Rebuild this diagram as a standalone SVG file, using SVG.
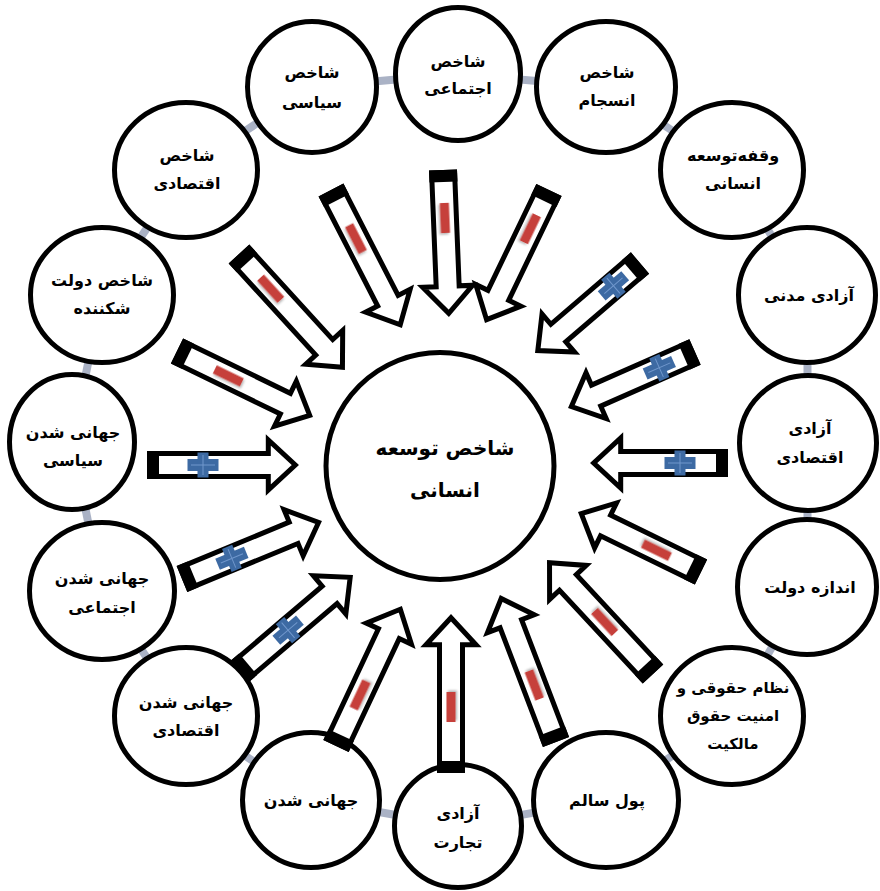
<svg xmlns="http://www.w3.org/2000/svg" width="880" height="891" viewBox="0 0 880 891">
<style>
.ring{stroke:#aab2c5;stroke-width:8;fill:none}
.node{fill:#fff;stroke:#000;stroke-width:5}
.lbl{font-family:"DejaVu Sans",sans-serif;font-weight:bold;font-size:16px;text-anchor:middle;fill:#000}
.big{font-size:20px}
.sm{font-size:15px}
.shaft{fill:#fff;stroke:#000;stroke-width:5;stroke-linejoin:miter}
.band{fill:#000}
.minus{fill:#c63f3a;filter:url(#sh)}
.plus{fill:#3d6aa3}
.pl{stroke:#7097cc;stroke-width:1}
</style>
<defs>
<filter id="sh" x="-50%" y="-50%" width="200%" height="200%">
<feDropShadow dx="1.5" dy="1.5" stdDeviation="1.2" flood-color="#000" flood-opacity="0.3"/>
</filter>
</defs>
<rect width="880" height="891" fill="#fff"/>
<g id="connectors">
<line class="ring" x1="458" y1="74" x2="606" y2="87"/>
<line class="ring" x1="606" y1="87" x2="732" y2="170"/>
<line class="ring" x1="732" y1="170" x2="807" y2="295"/>
<line class="ring" x1="807" y1="295" x2="808" y2="443"/>
<line class="ring" x1="808" y1="443" x2="807" y2="587"/>
<line class="ring" x1="807" y1="587" x2="732" y2="716"/>
<line class="ring" x1="732" y1="716" x2="606" y2="800"/>
<line class="ring" x1="606" y1="800" x2="458" y2="826"/>
<line class="ring" x1="458" y1="826" x2="311" y2="800"/>
<line class="ring" x1="311" y1="800" x2="186" y2="716"/>
<line class="ring" x1="186" y1="716" x2="102" y2="591"/>
<line class="ring" x1="102" y1="591" x2="72" y2="442"/>
<line class="ring" x1="72" y1="442" x2="102" y2="295"/>
<line class="ring" x1="102" y1="295" x2="186" y2="170"/>
<line class="ring" x1="186" y1="170" x2="312" y2="87"/>
<line class="ring" x1="312" y1="87" x2="458" y2="74"/>
</g>
<g id="n-center"><ellipse class="node" cx="440" cy="466" rx="114" ry="113.5"/><text class="lbl big" x="445" y="455">شاخص توسعه</text><text class="lbl big" x="445" y="497">انسانی</text></g>
<g id="n-ejtemaei"><ellipse class="node" cx="458" cy="74" rx="62.5" ry="66.5"/><text class="lbl" x="458" y="67">شاخص</text><text class="lbl" x="458" y="94">اجتماعی</text></g>
<g id="n-ensejam"><ellipse class="node" cx="606" cy="87" rx="69.5" ry="65.5"/><text class="lbl" x="607" y="78">شاخص</text><text class="lbl" x="607" y="106">انسجام</text></g>
<g id="n-vaghfe"><ellipse class="node" cx="732" cy="170" rx="71.5" ry="67.5"/><text class="lbl" x="733" y="161">وقفه‌توسعه</text><text class="lbl" x="733" y="189">انسانی</text></g>
<g id="n-madani"><ellipse class="node" cx="807" cy="295" rx="68.5" ry="67.5"/><text class="lbl" x="809" y="301">آزادی مدنی</text></g>
<g id="n-azadi-eghtesadi"><ellipse class="node" cx="808" cy="443" rx="68.5" ry="67.5"/><text class="lbl" x="810" y="434">آزادی</text><text class="lbl" x="810" y="463">اقتصادی</text></g>
<g id="n-andaze"><ellipse class="node" cx="807" cy="587" rx="69.5" ry="67.5"/><text class="lbl" x="810" y="593">اندازه دولت</text></g>
<g id="n-nezam"><ellipse class="node" cx="732" cy="716" rx="71.5" ry="68.5"/><text class="lbl sm" x="733" y="693">نظام حقوقی و</text><text class="lbl sm" x="733" y="721">امنیت حقوق</text><text class="lbl sm" x="733" y="749">مالکیت</text></g>
<g id="n-pool"><ellipse class="node" cx="606" cy="800" rx="72.5" ry="67.5"/><text class="lbl" x="607" y="806">پول سالم</text></g>
<g id="n-tejarat"><ellipse class="node" cx="458" cy="826" rx="63.5" ry="61.5"/><text class="lbl" x="458" y="819">آزادی</text><text class="lbl" x="458" y="848">تجارت</text></g>
<g id="n-jahani"><ellipse class="node" cx="311" cy="800" rx="68.5" ry="67.5"/><text class="lbl" x="311" y="806">جهانی شدن</text></g>
<g id="n-jahani-eghtesadi"><ellipse class="node" cx="186" cy="716" rx="71.5" ry="68.5"/><text class="lbl" x="186" y="708">جهانی شدن</text><text class="lbl" x="186" y="736">اقتصادی</text></g>
<g id="n-jahani-ejtemaei"><ellipse class="node" cx="102" cy="591" rx="72.5" ry="68.5"/><text class="lbl" x="102" y="584">جهانی شدن</text><text class="lbl" x="102" y="613">اجتماعی</text></g>
<g id="n-jahani-siasi"><ellipse class="node" cx="72" cy="442" rx="62.5" ry="67.5"/><text class="lbl" x="73" y="438">جهانی شدن</text><text class="lbl" x="73" y="466">سیاسی</text></g>
<g id="n-shekanande"><ellipse class="node" cx="102" cy="295" rx="71.5" ry="67.5"/><text class="lbl" x="102" y="286">شاخص دولت</text><text class="lbl" x="102" y="314">شکننده</text></g>
<g id="n-shakhes-eghtesadi"><ellipse class="node" cx="186" cy="170" rx="71.5" ry="67.5"/><text class="lbl" x="187" y="161">شاخص</text><text class="lbl" x="187" y="189">اقتصادی</text></g>
<g id="n-siasi"><ellipse class="node" cx="312" cy="87" rx="64.5" ry="65.5"/><text class="lbl" x="312" y="78">شاخص</text><text class="lbl" x="312" y="108">سیاسی</text></g>
<g id="arrows">
<g id="a-siasi" transform="translate(331,190) rotate(62.8)"><path class="shaft" d="M2.5,-11.5H124.5V-25L151.5,0L124.5,25V11.5H2.5Z"/><rect class="band" x="0" y="-14" width="12" height="28"/><rect class="minus" x="39.6" y="-4.5" width="30" height="9"/></g>
<g id="a-ejtemaei" transform="translate(443,170) rotate(87.7)"><path class="shaft" d="M2.5,-11.5H116.4V-25L143.4,0L116.4,25V11.5H2.5Z"/><rect class="band" x="0" y="-14" width="12" height="28"/><rect class="minus" x="33" y="-4.5" width="30" height="9"/></g>
<g id="a-ensejam" transform="translate(549,190) rotate(115.7)"><path class="shaft" d="M2.5,-11.5H116.9V-25L143.9,0L116.9,25V11.5H2.5Z"/><rect class="band" x="0" y="-14" width="12" height="28"/><rect class="minus" x="28" y="-4.5" width="30" height="9"/></g>
<g id="a-vaghfe" transform="translate(640,263) rotate(139.4)"><path class="shaft" d="M2.5,-11.5H107.6V-25L134.6,0L107.6,25V11.5H2.5Z"/><rect class="band" x="0" y="-14" width="12" height="28"/><rect class="plus" x="19.5" y="-6" width="31" height="12"/><rect class="plus" x="29.5" y="-12.5" width="11" height="25"/><path class="pl" d="M23,0H47M35,-10V10"/></g>
<g id="a-madani" transform="translate(695,352) rotate(156.2)"><path class="shaft" d="M2.5,-11.5H108.1V-25L135.1,0L108.1,25V11.5H2.5Z"/><rect class="band" x="0" y="-14" width="12" height="28"/><rect class="plus" x="23.5" y="-6" width="31" height="12"/><rect class="plus" x="33.5" y="-12.5" width="11" height="25"/><path class="pl" d="M27,0H51M39,-10V10"/></g>
<g id="a-azadi-eghtesadi" transform="translate(728,463) rotate(180)"><path class="shaft" d="M2.5,-11.5H107.3V-25L134.3,0L107.3,25V11.5H2.5Z"/><rect class="band" x="0" y="-14" width="12" height="28"/><rect class="plus" x="32.5" y="-6" width="31" height="12"/><rect class="plus" x="42.5" y="-12.5" width="11" height="25"/><path class="pl" d="M36,0H60M48,-10V10"/></g>
<g id="a-andaze" transform="translate(701,572) rotate(-154)"><path class="shaft" d="M2.5,-11.5H106.2V-25L133.2,0L106.2,25V11.5H2.5Z"/><rect class="band" x="0" y="-14" width="12" height="28"/><rect class="minus" x="34.6" y="-4.5" width="30" height="9"/></g>
<g id="a-nezam" transform="translate(653,674) rotate(-132.9)"><path class="shaft" d="M2.5,-11.5H125V-25L152,0L125,25V11.5H2.5Z"/><rect class="band" x="0" y="-14" width="12" height="28"/><rect class="minus" x="56" y="-4.5" width="30" height="9"/></g>
<g id="a-pool" transform="translate(556,742) rotate(-110.9)"><path class="shaft" d="M2.5,-11.5H126.6V-25L153.6,0L126.6,25V11.5H2.5Z"/><rect class="band" x="0" y="-14" width="12" height="28"/><rect class="minus" x="46" y="-4.5" width="30" height="9"/></g>
<g id="a-tejarat" transform="translate(451,773) rotate(-90)"><path class="shaft" d="M2.5,-11.5H128.3V-25L155.3,0L128.3,25V11.5H2.5Z"/><rect class="band" x="0" y="-14" width="12" height="28"/><rect class="minus" x="51" y="-4.5" width="30" height="9"/></g>
<g id="a-jahani" transform="translate(336,746) rotate(-64.8)"><path class="shaft" d="M2.5,-11.5H124.1V-25L151.1,0L124.1,25V11.5H2.5Z"/><rect class="band" x="0" y="-14" width="12" height="28"/><rect class="minus" x="41.4" y="-4.5" width="30" height="9"/></g>
<g id="a-jahani-eghtesadi" transform="translate(239,672) rotate(-40.4)"><path class="shaft" d="M2.5,-11.5H119V-25L146,0L119,25V11.5H2.5Z"/><rect class="band" x="0" y="-14" width="12" height="28"/><rect class="plus" x="49" y="-6" width="31" height="12"/><rect class="plus" x="59" y="-12.5" width="11" height="25"/><path class="pl" d="M52.5,0H76.5M64.5,-10V10"/></g>
<g id="a-jahani-ejtemaei" transform="translate(182,579) rotate(-22.5)"><path class="shaft" d="M2.5,-11.5H120.8V-25L147.8,0L120.8,25V11.5H2.5Z"/><rect class="band" x="0" y="-14" width="12" height="28"/><rect class="plus" x="38.5" y="-6" width="31" height="12"/><rect class="plus" x="48.5" y="-12.5" width="11" height="25"/><path class="pl" d="M42,0H66M54,-10V10"/></g>
<g id="a-jahani-siasi" transform="translate(147,465) rotate(0)"><path class="shaft" d="M2.5,-11.5H121.3V-25L148.3,0L121.3,25V11.5H2.5Z"/><rect class="band" x="0" y="-14" width="12" height="28"/><rect class="plus" x="40.5" y="-6" width="31" height="12"/><rect class="plus" x="50.5" y="-12.5" width="11" height="25"/><path class="pl" d="M44,0H68M56,-10V10"/></g>
<g id="a-shekanande" transform="translate(177,351) rotate(25.9)"><path class="shaft" d="M2.5,-11.5H120.5V-25L147.5,0L120.5,25V11.5H2.5Z"/><rect class="band" x="0" y="-14" width="12" height="28"/><rect class="minus" x="42" y="-4.5" width="30" height="9"/></g>
<g id="a-shakhes-eghtesadi" transform="translate(239,254) rotate(47.6)"><path class="shaft" d="M2.5,-11.5H126.4V-25L153.4,0L126.4,25V11.5H2.5Z"/><rect class="band" x="0" y="-14" width="12" height="28"/><rect class="minus" x="32" y="-4.5" width="30" height="9"/></g>
</g>
</svg>
